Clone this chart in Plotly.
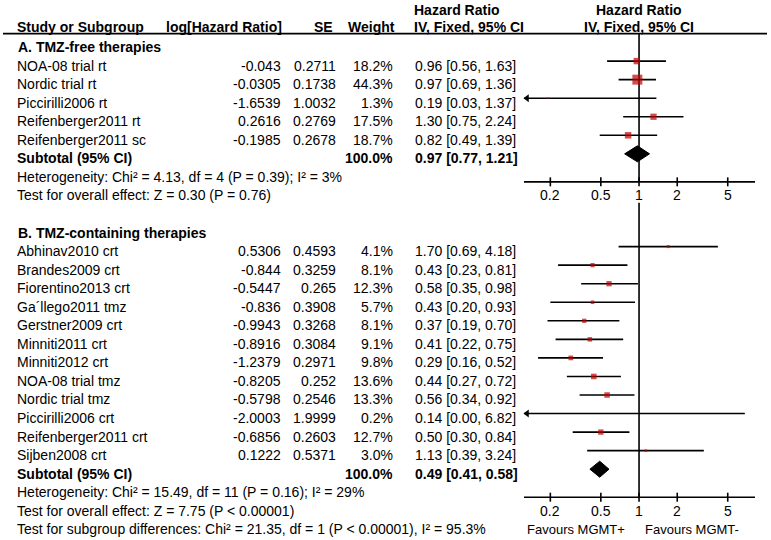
import math
import plotly.graph_objects as go

# ---------------- data ----------------
studies_a = ["NOA-08 trial rt", "Nordic trial rt", "Piccirilli2006 rt",
             "Reifenberger2011 rt", "Reifenberger2011 sc"]
loghr_a = [-0.043, -0.0305, -1.6539, 0.2616, -0.1985]
se_a = [0.2711, 0.1738, 1.0032, 0.2769, 0.2678]
weight_a = [18.2, 44.3, 1.3, 17.5, 18.7]
hr_a = [0.96, 0.97, 0.19, 1.30, 0.82]
lo_a = [0.56, 0.69, 0.03, 0.75, 0.49]
hi_a = [1.63, 1.36, 1.37, 2.24, 1.39]
subtotal_a = [0.97, 0.77, 1.21]

studies_b = ["Abhinav2010 crt", "Brandes2009 crt", "Fiorentino2013 crt",
             "Ga\u00b4llego2011 tmz", "Gerstner2009 crt", "Minniti2011 crt",
             "Minniti2012 crt", "NOA-08 trial tmz", "Nordic trial tmz",
             "Piccirilli2006 crt", "Reifenberger2011 crt", "Sijben2008 crt"]
loghr_b = [0.5306, -0.844, -0.5447, -0.836, -0.9943, -0.8916, -1.2379,
           -0.8205, -0.5798, -2.0003, -0.6856, 0.1222]
se_b = [0.4593, 0.3259, 0.265, 0.3908, 0.3268, 0.3084, 0.2971, 0.252,
        0.2546, 1.9999, 0.2603, 0.5371]
weight_b = [4.1, 8.1, 12.3, 5.7, 8.1, 9.1, 9.8, 13.6, 13.3, 0.2, 12.7, 3.0]
hr_b = [1.70, 0.43, 0.58, 0.43, 0.37, 0.41, 0.29, 0.44, 0.56, 0.14, 0.50, 1.13]
lo_b = [0.69, 0.23, 0.35, 0.20, 0.19, 0.22, 0.16, 0.27, 0.34, 0.00, 0.30, 0.39]
hi_b = [4.18, 0.81, 0.98, 0.93, 0.70, 0.75, 0.52, 0.72, 0.92, 6.82, 0.84, 3.24]
subtotal_b = [0.49, 0.41, 0.58]

section_titles = ["A. TMZ-free therapies", "B. TMZ-containing therapies"]
het_texts = ["Heterogeneity: Chi\u00b2 = 4.13, df = 4 (P = 0.39); I\u00b2 = 3%",
             "Heterogeneity: Chi\u00b2 = 15.49, df = 11 (P = 0.16); I\u00b2 = 29%"]
test_texts = ["Test for overall effect: Z = 0.30 (P = 0.76)",
              "Test for overall effect: Z = 7.75 (P < 0.00001)"]
subgroup_text = ("Test for subgroup differences: Chi\u00b2 = 21.35, df = 1 "
                 "(P < 0.00001), I\u00b2 = 95.3%")
tick_vals = [0.2, 0.5, 1, 2, 5]
tick_labels = ["0.2", "0.5", "1", "2", "5"]
favours = ["Favours MGMT+", "Favours MGMT-"]

# ---------------- layout constants ----------------
W, H = 771, 540
ROW0, ROWH = 47.0, 18.55          # pixel of row 0, row height
AX_LO, AX_HI = 0.124, 8.2         # visible range of forest axis
DOM = [524 / W, 755 / W]
MARK_OFF = -0.24                  # marks sit slightly above text centre
FONT = "Liberation Sans, Arial, sans-serif"
FS = 14
RED = "#C00000"

def px(x):
    return x / W

sections = [
    dict(names=studies_a, loghr=loghr_a, se=se_a, w=weight_a, hr=hr_a,
         lo=lo_a, hi=hi_a, sub=subtotal_a, start=0),
    dict(names=studies_b, loghr=loghr_b, se=se_b, w=weight_b, hr=hr_b,
         lo=lo_b, hi=hi_b, sub=subtotal_b, start=10),
]

fig = go.Figure()
ann = []

def text(x, y, s, anchor="left", bold=False, xref="paper", xshift=0, size=FS):
    ann.append(dict(x=x, y=y, xref=xref, yref="y", text=f"<b>{s}</b>" if bold else s,
                    showarrow=False, xanchor=anchor, yanchor="middle", xshift=xshift,
                    font=dict(family=FONT, size=size, color="black")))

# headers
hy1, hy2 = -2.0, -1.08
text(px(15), hy2, "Study or Subgroup", bold=True)
text(px(284), hy2, "log[Hazard Ratio]", "right", True)
text(px(335), hy2, "SE", "right", True)
text(px(397), hy2, "Weight", "right", True)
text(px(412), hy1, "Hazard Ratio", bold=True)
text(px(412), hy2, "IV, Fixed, 95% CI", bold=True)
text(0, hy1, "Hazard Ratio", "center", True, xref="x")
text(0, hy2, "IV, Fixed, 95% CI", "center", True, xref="x")

line_x, line_y = [], []
sq_x, sq_y, sq_s = [], [], []
arr_x, arr_y = [], []

for si, sec in enumerate(sections):
    r0 = sec["start"]
    text(px(16), r0, section_titles[si], bold=True)
    n = len(sec["names"])
    for i in range(n):
        r = r0 + 1 + i
        text(px(15), r, sec["names"][i])
        text(px(283), r, str(sec["loghr"][i]), "right")
        text(px(338), r, str(sec["se"][i]), "right")
        text(px(395), r, f"{sec['w'][i]:.1f}%", "right")
        text(px(413), r, f"{sec['hr'][i]:.2f} [{sec['lo'][i]:.2f}, {sec['hi'][i]:.2f}]")
        ym = r + MARK_OFF
        lo = max(sec["lo"][i], AX_LO)
        hi = min(sec["hi"][i], AX_HI)
        line_x += [lo, hi, None]
        line_y += [ym, ym, None]
        if sec["lo"][i] < AX_LO:
            arr_x.append(AX_LO * 10 ** (3 / 127))
            arr_y.append(ym)
        sq_x.append(sec["hr"][i])
        sq_y.append(ym)
        sq_s.append(1.5 * math.sqrt(sec["w"][i]))
    rs = r0 + 1 + n
    text(px(15), rs, "Subtotal (95% CI)", bold=True)
    text(px(395), rs, "100.0%", "right", True)
    est, slo, shi = sec["sub"]
    text(px(413), rs, f"{est:.2f} [{slo:.2f}, {shi:.2f}]", bold=True)
    yd = rs + MARK_OFF
    hh = 8 / ROWH
    fig.add_trace(go.Scatter(x=[slo, est, shi, est, slo], y=[yd, yd - hh, yd, yd + hh, yd],
                             mode="lines", fill="toself", fillcolor="black",
                             line=dict(color="black", width=1), hoverinfo="skip",
                             showlegend=False, cliponaxis=False))
    text(px(15), rs + 1, het_texts[si])
    text(px(15), rs + 2, test_texts[si])

    # axis for this section
    ax_y = rs + 1 + 5 / ROWH
    top = -0.72 if si == 0 else 8.4
    line_x += [1, 1, None, AX_LO, AX_HI, None]
    line_y += [top, ax_y, None, ax_y, ax_y, None]
    for t, lab in zip(tick_vals, tick_labels):
        line_x += [t, t, None]
        line_y += [ax_y - 4.5 / ROWH, ax_y + 4.5 / ROWH, None]
        text(math.log10(t), rs + 2, lab, "center", xref="x")

text(px(15), 26, subgroup_text)
text(0, 26, favours[0], "right", xref="x", xshift=-12, size=13)
text(0, 26, favours[1], "left", xref="x", xshift=4, size=13)

fig.add_trace(go.Scatter(x=line_x, y=line_y, mode="lines",
                         line=dict(color="black", width=1.6), hoverinfo="skip",
                         showlegend=False, cliponaxis=False))
fig.add_trace(go.Scatter(x=sq_x, y=sq_y, mode="markers",
                         marker=dict(symbol="square", color=RED, size=sq_s,
                                     line=dict(width=0)),
                         hoverinfo="skip", showlegend=False, cliponaxis=False))
fig.add_trace(go.Scatter(x=arr_x, y=arr_y, mode="markers",
                         marker=dict(symbol="triangle-left", color="black", size=7,
                                     line=dict(width=0)),
                         hoverinfo="skip", showlegend=False, cliponaxis=False))

fig.add_shape(type="line", xref="paper", yref="y", x0=px(3), x1=px(767),
              y0=-0.72, y1=-0.72, line=dict(color="black", width=1.6))

fig.update_layout(
    width=W, height=H, margin=dict(l=0, r=0, t=0, b=0),
    paper_bgcolor="white", plot_bgcolor="white",
    xaxis=dict(type="log", range=[math.log10(AX_LO), math.log10(AX_HI)],
               domain=DOM, visible=False),
    yaxis=dict(range=[(H - ROW0) / ROWH, -ROW0 / ROWH], domain=[0, 1], visible=False),
    annotations=ann, showlegend=False,
)
fig.write_html("out.html", post_script="document.body.style.margin='0';",
               config={"displayModeBar": False})
